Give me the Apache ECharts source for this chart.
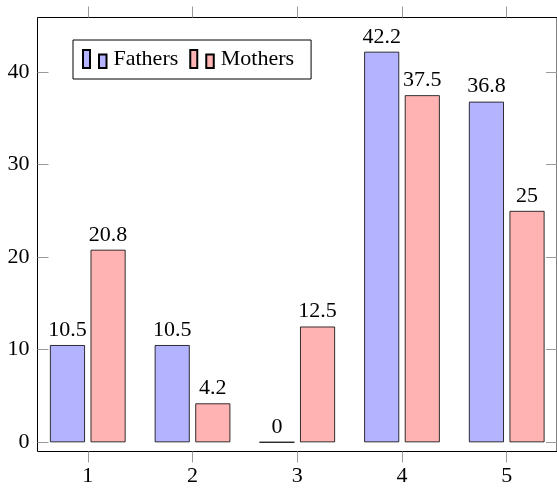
<!DOCTYPE html>
<html>
<head>
<meta charset="utf-8">
<script src="https://cdn.jsdelivr.net/npm/echarts@6/dist/echarts.min.js"></script>
<style>
  html, body { margin: 0; padding: 0; background: #fff; }
  #chart { width: 557px; height: 492px; }
</style>
</head>
<body>
<div id="chart"></div>
<script>
// data
var categories = [1, 2, 3, 4, 5];
var fathers = [10.5, 10.5, 0, 42.2, 36.8];
var mothers = [20.8, 4.2, 12.5, 37.5, 25];
var yTicks = [0, 10, 20, 30, 40];

var font = "'Liberation Serif', 'DejaVu Serif', serif";

function pairs(vals) {
  return categories.map(function (c, i) { return [c, vals[i]]; });
}

var chartDom = document.getElementById('chart');
var myChart = echarts.init(chartDom);

var tickStyle = { color: '#9a9a9a', width: 1 };

var option = {
  animation: false,
  grid: {
    left: 37.5, top: 17.5, width: 522, height: 434,
    show: true, borderColor: '#000', borderWidth: 1, backgroundColor: 'transparent'
  },
  legend: {
    left: 73, top: 40,
    orient: 'horizontal',
    backgroundColor: '#fff',
    borderColor: '#000', borderWidth: 1,
    padding: [8, 17, 9, 9],
    itemGap: 11,
    itemWidth: 23.5, itemHeight: 18,
    icon: 'path://M0,0H7V18H0Z M16,4.5H23.5V18H16Z',
    textStyle: { fontFamily: font, fontSize: 22, color: '#000', padding: [0, 0, 0, 2] },
    data: ['Fathers', 'Mothers']
  },
  xAxis: [{
    type: 'value', position: 'bottom',
    min: 0.52, max: 5.48,
    axisLine: { show: false, onZero: false },
    axisTick: { show: true, inside: false, length: 11, lineStyle: tickStyle, customValues: categories },
    axisLabel: { show: true, margin: 13.5, fontFamily: font, fontSize: 22, color: '#000', customValues: categories },
    splitLine: { show: false }
  }, {
    type: 'value', position: 'top',
    min: 0.52, max: 5.48,
    axisLine: { show: false, onZero: false },
    axisTick: { show: true, inside: false, length: 11, lineStyle: tickStyle, customValues: categories },
    axisLabel: { show: false },
    splitLine: { show: false }
  }],
  yAxis: [{
    type: 'value', position: 'left',
    min: -1, max: 45.9,
    axisLine: { show: false, onZero: false },
    axisTick: { show: true, inside: true, length: 11, lineStyle: tickStyle, customValues: yTicks },
    axisLabel: { show: true, margin: 8, fontFamily: font, fontSize: 22, color: '#000', customValues: yTicks },
    splitLine: { show: false }
  }, {
    type: 'value', position: 'right',
    min: -1, max: 45.9,
    axisLine: { show: false, onZero: false },
    axisTick: { show: true, inside: true, length: 11, lineStyle: tickStyle, customValues: yTicks },
    axisLabel: { show: false },
    splitLine: { show: false }
  }],
  series: [{
    name: 'Fathers',
    type: 'bar',
    xAxisIndex: 0, yAxisIndex: 0,
    barWidth: 35,
    barGap: '16%',
    itemStyle: { color: '#b3b3ff', borderColor: '#000', borderWidth: 0.8 },
    label: {
      show: true, position: 'top', distance: 4,
      fontFamily: font, fontSize: 22, color: '#000',
      formatter: function (p) { return p.value[1]; }
    },
    data: pairs(fathers)
  }, {
    name: 'Mothers',
    type: 'bar',
    xAxisIndex: 0, yAxisIndex: 0,
    barWidth: 35,
    barGap: '16%',
    itemStyle: { color: '#ffb3b3', borderColor: '#000', borderWidth: 0.8 },
    label: {
      show: true, position: 'top', distance: 4,
      fontFamily: font, fontSize: 22, color: '#000',
      formatter: function (p) { return p.value[1]; }
    },
    data: pairs(mothers)
  }]
};

option && myChart.setOption(option);
</script>
</body>
</html>
